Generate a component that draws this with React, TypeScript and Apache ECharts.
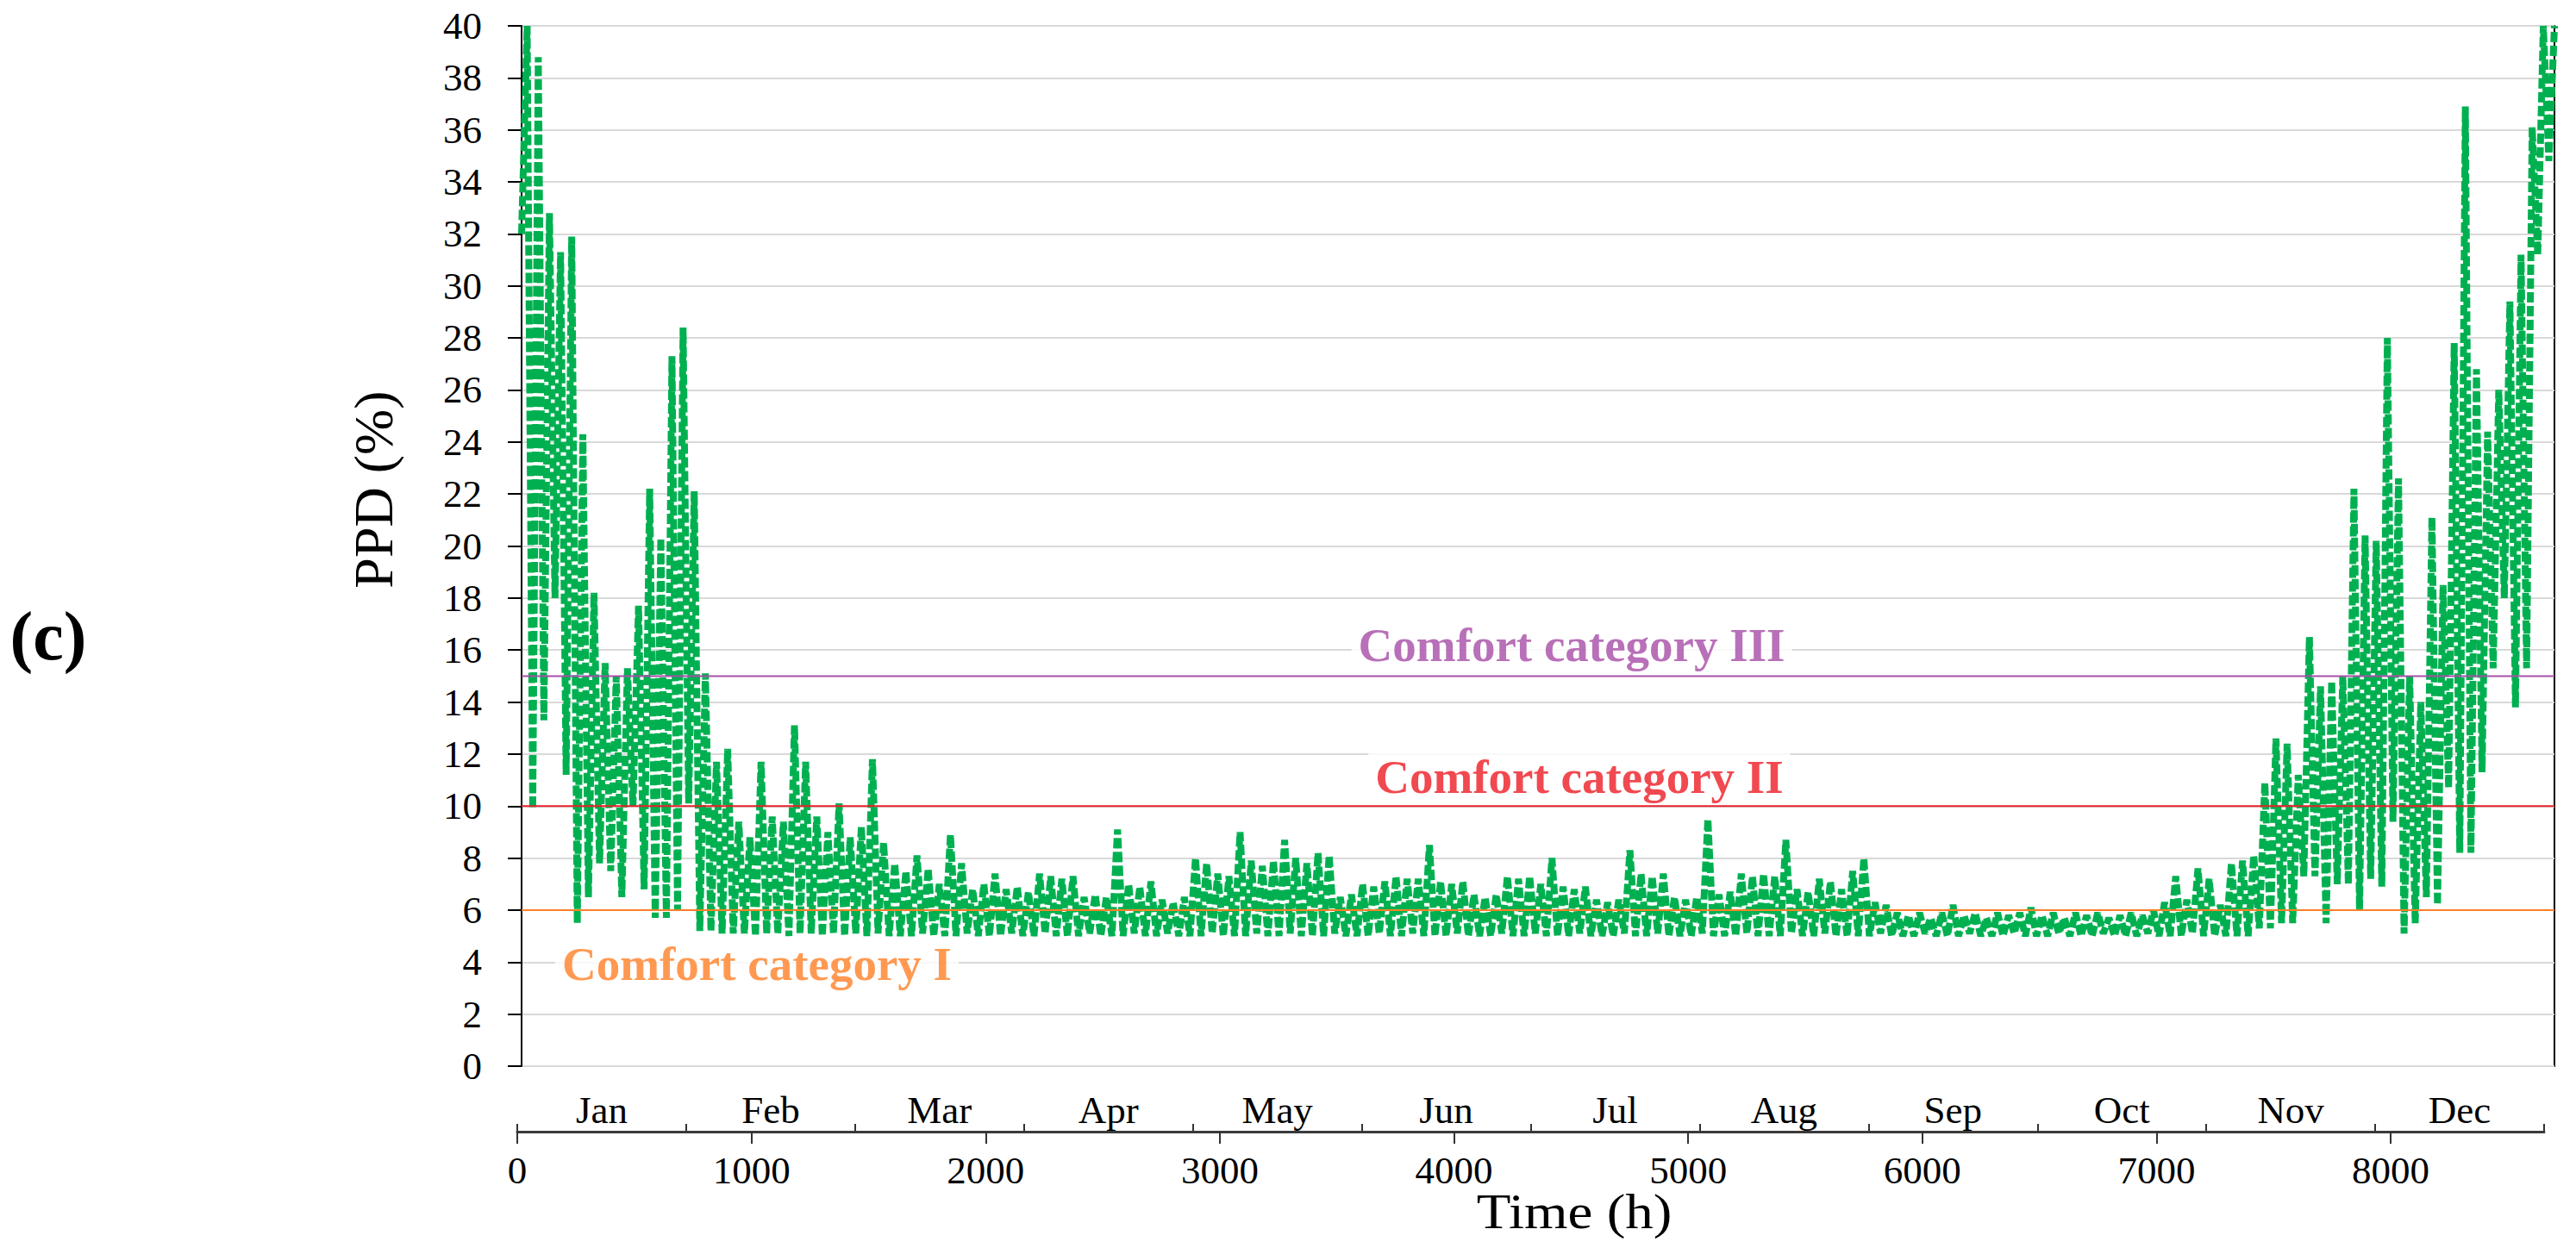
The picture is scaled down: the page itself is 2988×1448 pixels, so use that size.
import React, { useEffect, useRef } from "react";
import * as echarts from "echarts";

// Month names on the upper bottom axis
const months = ["Jan", "Feb", "Mar", "Apr", "May", "Jun", "Jul", "Aug", "Sep", "Oct", "Nov", "Dec"];

// Hours covered by one oscillation (trough then peak)
const cycleHours = 48;

// Envelope of the PPD curve: one peak and one trough per 48 h
const peakPPD = [
  40, 38.8, 32.8, 31.3, 31.9, 24.3, 18.2, 15.5, 15.0, 15.3, 17.7, 22.2, 20.3, 27.3, 28.4,
  22.1, 15.1, 11.7, 12.2, 9.4, 8.8, 11.7, 9.6, 9.4, 13.1, 11.7, 9.6, 9.0, 10.1, 8.8,
  9.2, 11.8, 8.6, 7.8, 7.5, 8.1, 7.6, 7.0, 8.9, 7.8, 6.8, 7.0, 7.4, 6.8, 6.9,
  6.7, 7.4, 7.3, 7.2, 7.3, 6.5, 6.6, 6.5, 9.1, 7.0, 6.9, 7.1, 6.4, 6.3, 6.5,
  8.0, 7.8, 7.4, 7.3, 9.0, 7.9, 7.7, 7.9, 8.7, 8.0, 7.8, 8.2, 8.1, 6.5, 6.6,
  7.0, 6.9, 7.1, 7.3, 7.2, 7.2, 8.5, 7.1, 7.0, 7.1, 6.6, 6.5, 6.6, 7.3, 7.2,
  7.3, 7.0, 8.0, 6.9, 6.8, 6.9, 6.4, 6.3, 6.4, 8.3, 7.4, 7.3, 7.4, 6.5, 6.4,
  6.5, 9.5, 6.6, 6.7, 7.4, 7.3, 7.4, 7.3, 8.7, 6.8, 6.7, 7.2, 7.1, 6.8, 7.5,
  8.0, 6.3, 6.2, 5.9, 5.8, 5.9, 5.7, 5.9, 6.2, 5.8, 5.9, 5.7, 5.9, 5.8, 5.9,
  6.1, 5.8, 5.9, 5.7, 5.9, 5.8, 5.9, 5.7, 5.8, 5.9, 5.8, 6.0, 6.3, 7.3, 6.4,
  7.6, 7.2, 6.2, 7.8, 7.9, 8.1, 10.9, 12.6, 12.4, 11.2, 16.5, 14.6, 14.8, 15.0, 22.2,
  20.4, 20.2, 28.0, 22.6, 15.0, 14.0, 21.1, 18.5, 27.8, 36.9, 26.8, 24.4, 26.0, 29.4, 31.2,
  36.1, 40, 40,
];

const troughPPD = [
  32, 9.9, 13.3, 18, 11.2, 5.5, 6.5, 7.8, 7.5, 6.5, 10, 6.8, 5.7, 5.7, 6.0,
  10.1, 5.2, 5.2, 5.1, 5.1, 5.1, 5.0, 5.1, 5.1, 5.0, 5.1, 5.1, 5.0, 5.1, 5.0,
  5.1, 5.0, 5.1, 5.0, 5.0, 5.0, 5.1, 5.0, 5.0, 5.0, 5.1, 5.0, 5.0, 5.0, 5.1,
  5.0, 5.0, 5.1, 5.0, 5.0, 5.0, 5.1, 5.0, 5.0, 5.0, 5.1, 5.0, 5.0, 5.1, 5.0,
  5.0, 5.0, 5.1, 5.0, 5.0, 5.0, 5.1, 5.0, 5.0, 5.1, 5.0, 5.0, 5.0, 5.1, 5.0,
  5.0, 5.0, 5.1, 5.0, 5.0, 5.1, 5.0, 5.0, 5.0, 5.1, 5.0, 5.0, 5.0, 5.1, 5.0,
  5.0, 5.1, 5.0, 5.0, 5.0, 5.1, 5.0, 5.0, 5.0, 5.1, 5.0, 5.0, 5.1, 5.0, 5.0,
  5.0, 5.1, 5.0, 5.0, 5.0, 5.1, 5.0, 5.0, 5.0, 5.1, 5.0, 5.0, 5.1, 5.0, 5.0,
  5.0, 5.0, 5.1, 5.0, 5.0, 5.0, 5.1, 5.0, 5.0, 5.0, 5.1, 5.0, 5.0, 5.0, 5.1,
  5.0, 5.0, 5.0, 5.1, 5.0, 5.0, 5.0, 5.1, 5.0, 5.0, 5.0, 5.1, 5.0, 5.0, 5.0,
  5.1, 5.0, 5.0, 5.0, 5.0, 5.0, 5.3, 5.3, 5.5, 5.5, 7.3, 7.3, 5.5, 7.0, 7.0,
  6.0, 7.2, 6.9, 9.4, 5.1, 5.5, 6.5, 6.2, 10.7, 8.2, 8.2, 11.3, 15.3, 18.0, 13.8,
  15.3, 31.2, 34.8,
];

// Comfort thresholds (PPD %)
const comfortNames = ["Comfort category I", "Comfort category II", "Comfort category III"];
const comfortValues = [6, 10, 15];

const FONT = "Liberation Serif, serif";

export default function App() {
  const ref = useRef<HTMLDivElement>(null);

  useEffect(() => {
    if (!ref.current) return;
    const chart = echarts.init(ref.current, undefined, { renderer: "svg" });

    const ppdSeries: [number, number][] = [];
    for (let k = 0; k < peakPPD.length; k++) {
      ppdSeries.push([k * cycleHours, troughPPD[k]]);
      ppdSeries.push([k * cycleHours + cycleHours / 2, peakPPD[k]]);
    }

    const lineColors = ["#FF7F27", "#E8202A", "#A650A8"];
    const textColors = ["#FF7F27", "#ED1C24", "#A64CA6"];
    const labelAnchors: [number, number][] = [
      [1014, 3.94],
      [4558, 11.13],
      [4525, 16.2],
    ];

    const thresholdSeries = comfortValues.map((v, i) => ({
      type: "line",
      xAxisIndex: 0,
      yAxisIndex: 0,
      data: [
        [0, v],
        [8760, v],
      ],
      symbol: "none",
      silent: true,
      z: 6,
      lineStyle: { color: lineColors[i], width: 2 },
    }));

    const labelSeries = comfortNames.map((name, i) => ({
      type: "scatter",
      xAxisIndex: 0,
      yAxisIndex: 0,
      data: [labelAnchors[i]],
      symbol: "rect",
      symbolSize: 1,
      silent: true,
      z: 5,
      itemStyle: { color: "rgba(0,0,0,0)" },
      label: {
        show: true,
        position: "inside",
        formatter: name,
        fontFamily: FONT,
        fontSize: 55,
        fontWeight: "bold",
        color: textColors[i],
        backgroundColor: "#ffffff",
        padding: [0, 8],
      },
    }));

    const option: any = {
      animation: false,
      backgroundColor: "#ffffff",
      textStyle: { fontFamily: FONT },
      grid: [
        { left: 605, top: 30, width: 2358, height: 1207, show: true, borderColor: "#000", borderWidth: 2, backgroundColor: "transparent" },
        { left: 600, top: 1200, width: 2173, height: 113, show: false },
        { left: 600, top: 1200, width: 2351, height: 113, show: false },
      ],
      xAxis: [
        {
          type: "value",
          gridIndex: 0,
          min: 0,
          max: 8760,
          axisLine: { show: false },
          axisTick: { show: false },
          axisLabel: { show: false },
          splitLine: { show: false },
        },
        {
          type: "value",
          gridIndex: 1,
          min: 0,
          max: 8000,
          interval: 1000,
          axisLine: { show: false },
          axisTick: { show: true, length: 14, lineStyle: { color: "#333", width: 2 } },
          axisLabel: { margin: 22, fontSize: 45, fontFamily: FONT, color: "#000", formatter: (v: number) => String(v) },
          splitLine: { show: false },
        },
        {
          type: "category",
          gridIndex: 2,
          data: months,
          boundaryGap: true,
          axisLine: { show: true, lineStyle: { color: "#3a3a3a", width: 3 } },
          axisTick: { show: true, inside: true, length: 9, lineStyle: { color: "#333", width: 2 } },
          axisLabel: { inside: true, margin: 3, fontSize: 45, fontFamily: FONT, color: "#000" },
          splitLine: { show: false },
        },
      ],
      yAxis: [
        {
          type: "value",
          gridIndex: 0,
          min: 0,
          max: 40,
          interval: 2,
          axisLine: { show: true, lineStyle: { color: "#000", width: 2 } },
          axisTick: { show: true, length: 16, lineStyle: { color: "#000", width: 2 } },
          axisLabel: { margin: 46, fontSize: 45, fontFamily: FONT, color: "#000" },
          splitLine: { show: true, lineStyle: { color: "#d9d9d9", width: 2 } },
        },
        { type: "value", gridIndex: 1, show: false },
        { type: "value", gridIndex: 2, show: false },
      ],
      series: [
        {
          type: "line",
          xAxisIndex: 0,
          yAxisIndex: 0,
          data: ppdSeries,
          symbol: "none",
          showSymbol: false,
          silent: true,
          z: 3,
          lineStyle: { color: "#00B050", width: 8, type: [12, 4] },
        },
        ...labelSeries,
        ...thresholdSeries,
      ],
      graphic: [
        {
          type: "text",
          x: 56,
          y: 738,
          style: { text: "(c)", fontFamily: FONT, fontSize: 80, fontWeight: "bold", fill: "#000", align: "center", verticalAlign: "middle" },
        },
        {
          type: "text",
          x: 433,
          y: 568,
          rotation: Math.PI / 2,
          style: { text: "PPD (%)", fontFamily: FONT, fontSize: 64, fill: "#000", align: "center", verticalAlign: "middle" },
        },
        {
          type: "text",
          x: 1826,
          y: 1405,
          scaleX: 1.12,
          style: { text: "Time (h)", fontFamily: FONT, fontSize: 58, fill: "#000", align: "center", verticalAlign: "middle" },
        },
      ],
    };

    chart.setOption(option);
    return () => chart.dispose();
  }, []);

  return (
    <div
      ref={ref}
      style={{ position: "absolute", left: 0, top: 0, width: 2988, height: 1448, background: "#fff" }}
    />
  );
}
